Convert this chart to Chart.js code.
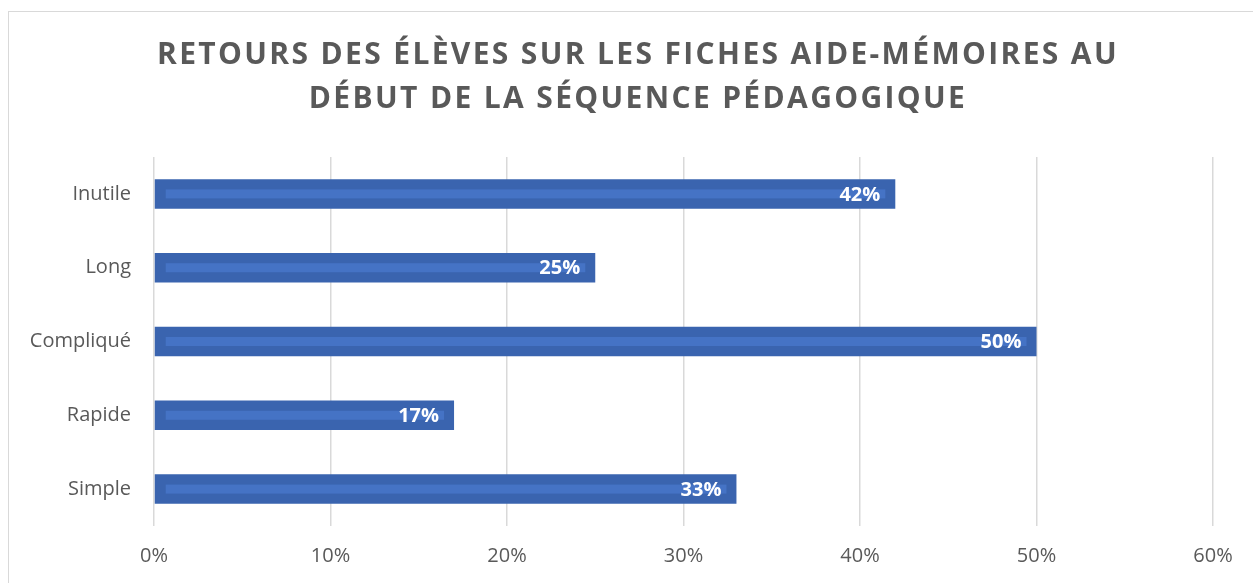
<!DOCTYPE html>
<html>
<head>
<meta charset="utf-8">
<script src="https://cdn.jsdelivr.net/npm/chart.js@4.4.0/dist/chart.umd.min.js"></script>
<style>
  html, body { margin: 0; padding: 0; background: #fff; }
  #wrap { position: relative; width: 1253px; height: 583px; }
  #frame { position: absolute; left: 8px; top: 11px; width: 1250px; height: 600px;
           border: 1px solid #d9d9d9; box-sizing: border-box; }
  canvas { position: absolute; left: 0; top: 0; }
</style>
</head>
<body>
<div id="wrap">
  <div id="frame"></div>
  <canvas id="chart" width="1253" height="583"></canvas>
</div>
<script>
// Chart values
var titleLines = ["RETOURS DES ÉLÈVES SUR LES FICHES AIDE-MÉMOIRES AU", "DÉBUT DE LA SÉQUENCE PÉDAGOGIQUE"];
var categories = ["Inutile", "Long", "Compliqué", "Rapide", "Simple"];
var percents = [42, 25, 50, 17, 33];
var barColor = "#3a64af";
var stripeColor = "#4573c5";

// spaced-out title, drawn above the plot
var spacedTitle = {
    id: "spacedTitle",
    afterDraw: function (chart) {
        var ctx = chart.ctx;
        ctx.save();
        ctx.fillStyle = "#595959";
        ctx.font = "bold 30px 'Open Sans'";
        ctx.letterSpacing = "2.35px";
        ctx.textAlign = "center";
        ctx.textBaseline = "alphabetic";
        ctx.fillText(titleLines[0], 638, 64);
        ctx.fillText(titleLines[1], 638, 108);
        ctx.restore();
    }
};

// draws the lighter inner stripe and the white value labels
var barDecor = {
    id: "barDecor",
    afterDatasetsDraw: function (chart) {
        var ctx = chart.ctx;
        var meta = chart.getDatasetMeta(0);
        ctx.save();
        meta.data.forEach(function (bar, i) {
            var left = bar.base, right = bar.x;
            ctx.fillStyle = stripeColor;
            ctx.fillRect(left + 11, bar.y - 4.5, right - left - 21, 9);
            ctx.fillStyle = "#ffffff";
            ctx.font = "bold 20px 'Open Sans'";
            ctx.textAlign = "right";
            ctx.textBaseline = "middle";
            ctx.fillText(percents[i] + "%", right - 15, bar.y + 1);
        });
        ctx.restore();
    }
};

var ctx = document.getElementById("chart").getContext("2d");
new Chart(ctx, {
    type: "bar",
    data: {
        labels: categories,
        datasets: [{
            data: percents,
            backgroundColor: barColor,
            borderWidth: 0,
            categoryPercentage: 0.4,
            barPercentage: 1.0
        }]
    },
    plugins: [barDecor, spacedTitle],
    options: {
        indexAxis: "y",
        responsive: false,
        animation: false,
        layout: { padding: { left: 10, right: 40, top: 157, bottom: 0 } },
        plugins: {
            legend: { display: false },
            tooltip: { enabled: false },
            title: { display: false }
        },
        scales: {
            x: {
                min: 0,
                max: 60,
                ticks: {
                    stepSize: 10,
                    color: "#595959",
                    font: { family: "Open Sans", size: 20 },
                    padding: 18,
                    callback: function (v) { return v + "%"; }
                },
                grid: { color: "#d9d9d9", lineWidth: 1.5, drawTicks: false },
                border: { display: false },
                afterFit: function (scale) { scale.height = 57; }
            },
            y: {
                ticks: {
                    color: "#595959",
                    font: { family: "Open Sans", size: 20 },
                    padding: 23
                },
                grid: { display: false, drawTicks: false },
                border: { display: false },
                afterFit: function (scale) { scale.width = 144; }
            }
        }
    }
});
</script>
</body>
</html>
